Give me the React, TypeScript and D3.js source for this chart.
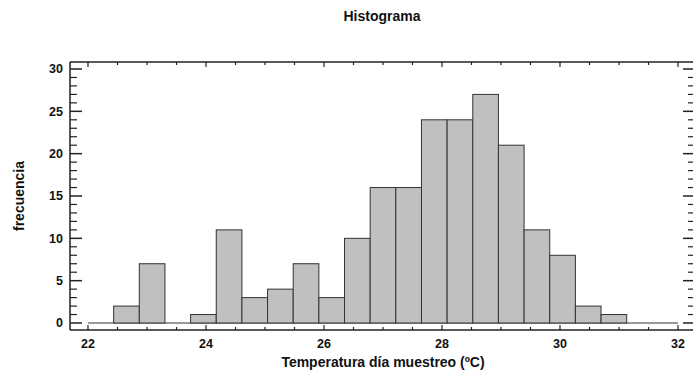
import React from "react";
import * as d3 from "d3";

const title = "Histograma";
const xLabel = "Temperatura día muestreo (ºC)";
const yLabel = "frecuencia";
const binLow = 22;
const binHigh = 32;
const counts = [0, 2, 7, 0, 1, 11, 3, 4, 7, 3, 10, 16, 16, 24, 24, 27, 21, 11, 8, 2, 1, 0, 0];
const xTicks = [22, 24, 26, 28, 30, 32];
const yTicks = [0, 5, 10, 15, 20, 25, 30];

const W = 693;
const H = 376;
const FONT = "'Liberation Sans', Arial, sans-serif";

export default function App() {
  const left = 70, right = 693, top = 62, bottom = 330;
  const x = d3.scaleLinear().domain([22, 32]).range([88, 678]);
  const y = d3.scaleLinear().domain([0, 30]).range([323, 69]);
  const n = counts.length;
  const bw = (binHigh - binLow) / n;
  const bins = counts.map((c, i) => ({ x0: binLow + i * bw, x1: binLow + (i + 1) * bw, c }));
  const xMinor = d3.range(22, 32.001, 0.5);
  const yMinor = d3.range(0, 30.001, 1);
  const axisColor = "#222";
  return (
    <svg width={W} height={H} style={{ position: "absolute", left: 0, top: 0, background: "#fff" }}>
      <text x={382} y={21} textAnchor="middle" fontFamily={FONT} fontWeight="bold" fontSize={14} fill="#111">{title}</text>
      {/* zero baseline across all bins */}
      <line x1={x(binLow)} x2={x(binHigh)} y1={y(0)} y2={y(0)} stroke="#333" strokeWidth={1} />
      {/* bars */}
      {bins.filter((b) => b.c > 0).map((b, i) => (
        <rect key={i} x={x(b.x0)} y={y(b.c)} width={x(b.x1) - x(b.x0)} height={y(0) - y(b.c)}
          fill="#c0c0c0" stroke="#333" strokeWidth={1} />
      ))}
      {/* frame */}
      <line x1={left} x2={right} y1={top} y2={top} stroke={axisColor} strokeWidth={1.5} />
      <line x1={left} x2={right} y1={bottom} y2={bottom} stroke={axisColor} strokeWidth={1.5} />
      <line x1={left} x2={left} y1={top} y2={bottom} stroke={axisColor} strokeWidth={1.5} />
      {/* left ticks */}
      {yMinor.map((v) => {
        const major = v % 5 === 0;
        return <line key={"l" + v} x1={left} x2={left + (major ? 12 : 7)} y1={y(v)} y2={y(v)} stroke={axisColor} strokeWidth={major ? 1.5 : 1.2} />;
      })}
      {/* right ticks */}
      {yMinor.map((v) => {
        const major = v % 5 === 0;
        return <line key={"r" + v} x1={right} x2={right - (major ? 10 : 5)} y1={y(v)} y2={y(v)} stroke={axisColor} strokeWidth={major ? 1.5 : 1.2} />;
      })}
      {/* top/bottom ticks */}
      {xMinor.map((v) => {
        const major = Math.abs(v % 2) < 1e-9;
        const len = major ? 5 : 3;
        return (
          <g key={"x" + v}>
            <line x1={x(v)} x2={x(v)} y1={top} y2={top + len} stroke={axisColor} strokeWidth={1.2} />
            <line x1={x(v)} x2={x(v)} y1={bottom} y2={bottom - len} stroke={axisColor} strokeWidth={1.2} />
          </g>
        );
      })}
      {/* tick labels */}
      {yTicks.map((v) => (
        <text key={"yl" + v} x={63} y={y(v)} dy="0.35em" textAnchor="end" fontFamily={FONT} fontWeight="bold" fontSize={12.5} fill="#111">{v}</text>
      ))}
      {xTicks.map((v) => (
        <text key={"xl" + v} x={x(v)} y={348} textAnchor="middle" fontFamily={FONT} fontWeight="bold" fontSize={12.5} fill="#111">{v}</text>
      ))}
      <text x={383} y={367} textAnchor="middle" fontFamily={FONT} fontWeight="bold" fontSize={14} fill="#111">{xLabel}</text>
      <text transform={`translate(24,196) rotate(-90)`} textAnchor="middle" fontFamily={FONT} fontWeight="bold" fontSize={14} fill="#111">{yLabel}</text>
    </svg>
  );
}
